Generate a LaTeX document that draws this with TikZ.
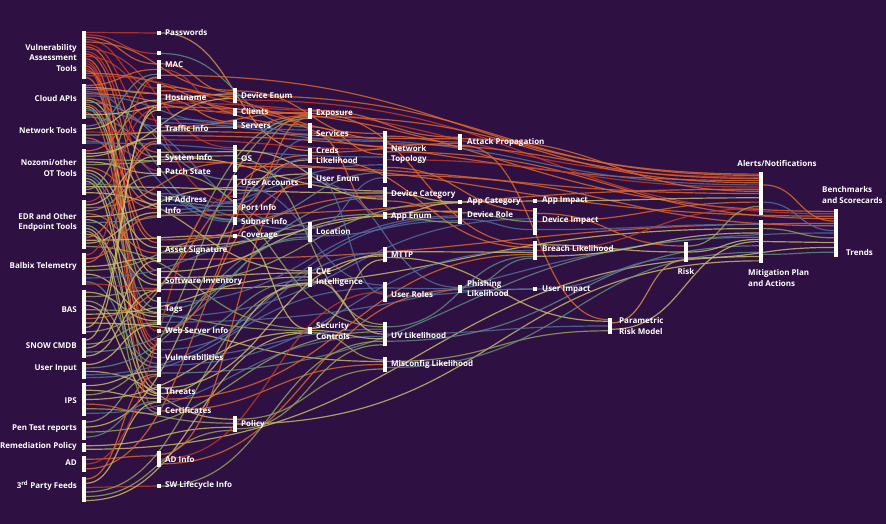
\documentclass[tikz,border=0pt]{standalone}
\usepackage{fontspec}
\setmainfont{Open Sans}
\usetikzlibrary{calc}
\definecolor{bgc}{RGB}{46,17,66}
\definecolor{cr}{RGB}{196,58,42}
\definecolor{co}{RGB}{224,104,48}
\definecolor{ca}{RGB}{214,150,80}
\definecolor{cy}{RGB}{206,190,110}
\definecolor{cg}{RGB}{150,165,95}
\definecolor{ct}{RGB}{95,140,135}
\definecolor{cb}{RGB}{85,110,160}
\tikzset{
  barn/.style={fill=white,draw=none,inner sep=0pt,outer sep=0pt,minimum width=4pt},
  flow/.style={line width=1.2pt,opacity=0.8},
  lab/.style={text=white,font=\bfseries\fontsize{8}{10.5}\selectfont,inner sep=0pt,align=left,anchor=west},
  labr/.style={lab,align=right,anchor=east},
  labc/.style={lab,align=center,anchor=center}
}
\newcommand\mkbar[4]{\node[barn,minimum height=#4pt,anchor=north west] (#1) at (#2,#3) {};}
\newcommand\lk[5]{\draw[flow,#5] let \p1=($(#1.north east)!#2!(#1.south east)$), \p2=($(#3.north west)!#4!(#3.south west)$) in (\p1) .. controls ({(\x1+\x2)/2},\y1) and ({(\x1+\x2)/2},\y2) .. (\p2);}
\begin{document}
\begin{tikzpicture}[x=1pt,y=-1pt]
\fill[bgc] (0,0) rectangle (886,524);
\useasboundingbox (0,0) rectangle (886,524);
% column 1
\mkbar{vat}{82}{31}{48}
\mkbar{cloud}{82}{84}{35}
\mkbar{nettools}{82}{124}{20}
\mkbar{ot}{82}{149}{46}
\mkbar{edr}{82}{200}{49}
\mkbar{balbix}{82}{253}{32}
\mkbar{bas}{82}{290}{44}
\mkbar{snow}{82}{338}{20}
\mkbar{uinput}{82}{362}{17}
\mkbar{ips}{82}{383}{33}
\mkbar{pen}{82}{420}{20}
\mkbar{remed}{82}{443}{9}
\mkbar{ad}{82}{456}{16}
\mkbar{tpf}{82}{477}{25}
% column 2
\mkbar{pw}{157}{31}{4}
\mkbar{unl}{157}{51.5}{4}
\mkbar{mac}{157}{60}{19}
\mkbar{host}{157}{84}{27}
\mkbar{traffic}{157}{116}{28}
\mkbar{sysinfo}{157}{149}{16}
\mkbar{patch}{157}{168}{8}
\mkbar{ip}{157}{191}{27}
\mkbar{asig}{157}{236}{26}
\mkbar{swinv}{157}{268}{24}
\mkbar{tags}{157}{297}{28}
\mkbar{websrv}{157}{329}{4}
\mkbar{vulns}{157}{338}{39}
\mkbar{threats}{157}{384}{19}
\mkbar{cert}{157}{407}{8}
\mkbar{adinfo}{157}{451}{16}
\mkbar{swlife}{157}{484}{4}
% column 3
\mkbar{devenum}{233}{88}{15}
\mkbar{clients}{233}{108}{8}
\mkbar{servers}{233}{120}{9}
\mkbar{os}{233}{145}{27}
\mkbar{uacc}{233}{175}{23}
\mkbar{port}{233}{199}{15}
\mkbar{subnet}{233}{217}{8}
\mkbar{cover}{233}{233.5}{4}
\mkbar{policy}{233}{416}{16}
% column 4
\mkbar{expo}{308}{108}{11}
\mkbar{serv}{308}{123}{20}
\mkbar{creds}{308}{148}{15}
\mkbar{uenum}{308}{168}{20}
\mkbar{loc}{308}{222}{20}
\mkbar{cve}{308}{267}{20}
\mkbar{sec}{308}{327}{7}
% column 5
\mkbar{ntopo}{383}{131}{52}
\mkbar{dcat}{383}{187}{20}
\mkbar{aenum}{383}{212}{7}
\mkbar{mttp}{383}{247}{15}
\mkbar{uroles}{383}{282}{20}
\mkbar{uvl}{383}{322}{24}
\mkbar{misc}{383}{357}{15}
% column 6
\mkbar{aprop}{458}{134}{16}
\mkbar{acat}{458}{200}{4}
\mkbar{drole}{458}{208}{16}
\mkbar{phish}{458}{285}{8}
% column 7
\mkbar{aimp}{533}{199}{4}
\mkbar{dimp}{533}{208}{27}
\mkbar{breach}{533}{241}{19}
\mkbar{uimp}{533}{287}{4}
% right part
\mkbar{prm}{608}{318}{16}
\mkbar{risk}{684}{242}{20}
\mkbar{alerts}{759}{172}{43}
\mkbar{mitig}{759}{220}{43}
\mkbar{bench}{834}{209}{48}
% ---------- flows ----------
\begin{scope}
\lk{vat}{.03}{pw}{.5}{cr}
\lk{vat}{.08}{unl}{.5}{cr}
\lk{vat}{.13}{mac}{.2}{co}
\lk{vat}{.18}{host}{.15}{cr}
\lk{vat}{.23}{devenum}{.15}{co}
\lk{vat}{.28}{traffic}{.15}{cr}
\lk{vat}{.33}{sysinfo}{.2}{co}
\lk{vat}{.38}{os}{.1}{cr}
\lk{vat}{.43}{patch}{.3}{cr}
\lk{vat}{.48}{ip}{.15}{co}
\lk{vat}{.53}{port}{.2}{cr}
\lk{vat}{.58}{swinv}{.1}{co}
\lk{vat}{.63}{websrv}{.5}{cr}
\lk{vat}{.68}{vulns}{.08}{cr}
\lk{vat}{.73}{threats}{.1}{co}
\lk{vat}{.78}{cert}{.3}{cr}
\lk{vat}{.83}{asig}{.1}{co}
\lk{vat}{.88}{serv}{.1}{co}
\lk{vat}{.93}{expo}{.2}{cr}
\lk{vat}{.97}{vulns}{.2}{co}
\lk{cloud}{.04}{mac}{.5}{co}
\lk{cloud}{.1}{host}{.35}{ca}
\lk{cloud}{.16}{expo}{.5}{co}
\lk{cloud}{.22}{traffic}{.35}{cb}
\lk{cloud}{.28}{clients}{.5}{co}
\lk{cloud}{.34}{servers}{.4}{cb}
\lk{cloud}{.40}{sysinfo}{.5}{co}
\lk{cloud}{.46}{ip}{.35}{cy}
\lk{cloud}{.52}{uacc}{.2}{ct}
\lk{cloud}{.58}{asig}{.25}{co}
\lk{cloud}{.64}{swinv}{.3}{cy}
\lk{cloud}{.70}{tags}{.15}{cg}
\lk{cloud}{.76}{loc}{.2}{cb}
\lk{cloud}{.82}{vulns}{.3}{co}
\lk{cloud}{.88}{devenum}{.4}{cy}
\lk{cloud}{.94}{subnet}{.3}{ct}
\lk{nettools}{.1}{mac}{.75}{ct}
\lk{nettools}{.25}{host}{.6}{cy}
\lk{nettools}{.4}{traffic}{.6}{cr}
\lk{nettools}{.55}{servers}{.8}{cg}
\lk{nettools}{.7}{ip}{.5}{co}
\lk{nettools}{.85}{subnet}{.6}{cb}
\lk{nettools}{.95}{ntopo}{.5}{cb}
\lk{ot}{.04}{host}{.8}{co}
\lk{ot}{.1}{devenum}{.7}{cy}
\lk{ot}{.16}{traffic}{.8}{cy}
\lk{ot}{.22}{sysinfo}{.75}{cg}
\lk{ot}{.28}{patch}{.7}{cy}
\lk{ot}{.34}{os}{.4}{cg}
\lk{ot}{.40}{ip}{.65}{co}
\lk{ot}{.46}{asig}{.45}{cy}
\lk{ot}{.52}{swinv}{.5}{cg}
\lk{ot}{.58}{tags}{.4}{ct}
\lk{ot}{.64}{vulns}{.4}{cy}
\lk{ot}{.70}{threats}{.3}{cy}
\lk{ot}{.76}{port}{.5}{ct}
\lk{ot}{.82}{dcat}{.3}{cy}
\lk{ot}{.88}{mac}{.9}{cg}
\lk{ot}{.95}{cve}{.2}{cy}
\lk{edr}{.04}{host}{.92}{cr}
\lk{edr}{.1}{sysinfo}{.45}{cy}
\lk{edr}{.16}{os}{.65}{co}
\lk{edr}{.22}{patch}{.9}{cg}
\lk{edr}{.28}{asig}{.65}{co}
\lk{edr}{.34}{uacc}{.55}{cy}
\lk{edr}{.40}{swinv}{.7}{cy}
\lk{edr}{.46}{port}{.75}{ct}
\lk{edr}{.52}{vulns}{.5}{cg}
\lk{edr}{.58}{threats}{.5}{cy}
\lk{edr}{.64}{cert}{.7}{cg}
\lk{edr}{.70}{tags}{.55}{cy}
\lk{edr}{.76}{traffic}{.9}{co}
\lk{edr}{.82}{cover}{.5}{cy}
\lk{edr}{.88}{ip}{.8}{cy}
\lk{edr}{.95}{sec}{.2}{cg}
\lk{balbix}{.06}{mac}{.95}{cr}
\lk{balbix}{.18}{ip}{.92}{co}
\lk{balbix}{.3}{traffic}{.97}{co}
\lk{balbix}{.42}{asig}{.85}{cy}
\lk{balbix}{.54}{cover}{.8}{cg}
\lk{balbix}{.66}{tags}{.7}{cy}
\lk{balbix}{.78}{loc}{.6}{cb}
\lk{balbix}{.9}{vulns}{.65}{ct}
\lk{balbix}{.97}{swinv}{.85}{cr}
\lk{bas}{.05}{tags}{.85}{cy}
\lk{bas}{.15}{swinv}{.92}{cg}
\lk{bas}{.25}{vulns}{.75}{cg}
\lk{bas}{.35}{threats}{.6}{cy}
\lk{bas}{.45}{sec}{.5}{cg}
\lk{bas}{.55}{cve}{.5}{cy}
\lk{bas}{.65}{creds}{.5}{co}
\lk{bas}{.75}{misc}{.3}{cy}
\lk{bas}{.85}{host}{.97}{cy}
\lk{bas}{.95}{expo}{.8}{cg}
\lk{snow}{.1}{host}{.85}{cy}
\lk{snow}{.3}{tags}{.92}{cg}
\lk{snow}{.5}{asig}{.95}{cy}
\lk{snow}{.7}{dcat}{.5}{ct}
\lk{snow}{.9}{swinv}{.95}{cy}
\lk{uinput}{.15}{tags}{.97}{cy}
\lk{uinput}{.35}{loc}{.85}{ct}
\lk{uinput}{.55}{policy}{.2}{cy}
\lk{uinput}{.75}{drole}{.6}{cb}
\lk{uinput}{.92}{uroles}{.3}{cb}
\lk{ips}{.08}{vulns}{.85}{cy}
\lk{ips}{.22}{threats}{.75}{cy}
\lk{ips}{.36}{expo}{.95}{cg}
\lk{ips}{.5}{sec}{.7}{cy}
\lk{ips}{.64}{cert}{.85}{co}
\lk{ips}{.78}{policy}{.45}{cg}
\lk{ips}{.92}{uvl}{.6}{cb}
\lk{pen}{.1}{vulns}{.93}{cg}
\lk{pen}{.35}{creds}{.8}{cy}
\lk{pen}{.6}{uvl}{.4}{cg}
\lk{pen}{.85}{threats}{.92}{ct}
\lk{remed}{.3}{policy}{.7}{cy}
\lk{remed}{.7}{mitig}{.85}{cy}
\lk{ad}{.2}{adinfo}{.3}{co}
\lk{ad}{.5}{uacc}{.92}{cr}
\lk{ad}{.8}{uenum}{.8}{co}
\lk{tpf}{.08}{vulns}{.97}{co}
\lk{tpf}{.25}{threats}{.97}{cy}
\lk{tpf}{.42}{swlife}{.5}{cr}
\lk{tpf}{.6}{cve}{.9}{cg}
\lk{tpf}{.78}{policy}{.9}{cg}
\lk{tpf}{.94}{sec}{.85}{cy}
% column 2 outgoing
\lk{pw}{.5}{creds}{.15}{ca}
\lk{unl}{.5}{serv}{.2}{ct}
\lk{mac}{.2}{devenum}{.3}{co}
\lk{mac}{.5}{clients}{.3}{cr}
\lk{mac}{.8}{alerts}{.05}{co}
\lk{host}{.1}{devenum}{.55}{co}
\lk{host}{.25}{ntopo}{.05}{co}
\lk{host}{.4}{clients}{.7}{cr}
\lk{host}{.55}{servers}{.2}{co}
\lk{host}{.7}{alerts}{.12}{cr}
\lk{host}{.85}{bench}{.05}{co}
\lk{traffic}{.1}{serv}{.35}{cb}
\lk{traffic}{.25}{ntopo}{.2}{cb}
\lk{traffic}{.4}{expo}{.4}{co}
\lk{traffic}{.55}{aprop}{.3}{co}
\lk{traffic}{.7}{alerts}{.2}{co}
\lk{traffic}{.85}{ntopo}{.35}{cr}
\lk{sysinfo}{.2}{os}{.25}{cy}
\lk{sysinfo}{.5}{dcat}{.2}{cy}
\lk{sysinfo}{.8}{bench}{.15}{co}
\lk{patch}{.5}{uvl}{.2}{cg}
\lk{ip}{.1}{port}{.3}{cb}
\lk{ip}{.3}{subnet}{.4}{ct}
\lk{ip}{.5}{loc}{.4}{cb}
\lk{ip}{.7}{ntopo}{.65}{cb}
\lk{ip}{.9}{alerts}{.4}{co}
\lk{asig}{.15}{dcat}{.45}{co}
\lk{asig}{.4}{drole}{.2}{cy}
\lk{asig}{.65}{aenum}{.3}{cg}
\lk{asig}{.9}{bench}{.3}{co}
\lk{swinv}{.15}{aenum}{.6}{cy}
\lk{swinv}{.4}{cve}{.3}{cy}
\lk{swinv}{.65}{acat}{.5}{cg}
\lk{swinv}{.9}{mitig}{.2}{cy}
\lk{tags}{.2}{drole}{.5}{cb}
\lk{tags}{.45}{loc}{.75}{ct}
\lk{tags}{.7}{dimp}{.4}{cb}
\lk{tags}{.9}{bench}{.5}{cb}
\lk{websrv}{.5}{expo}{.65}{co}
\lk{vulns}{.1}{cve}{.65}{ct}
\lk{vulns}{.3}{mttp}{.4}{cb}
\lk{vulns}{.5}{uvl}{.3}{cb}
\lk{vulns}{.7}{breach}{.5}{cb}
\lk{vulns}{.9}{mitig}{.4}{ct}
\lk{threats}{.2}{mttp}{.6}{cy}
\lk{threats}{.5}{cve}{.8}{cy}
\lk{threats}{.8}{breach}{.7}{co}
\lk{cert}{.5}{misc}{.5}{co}
\lk{adinfo}{.2}{uenum}{.5}{co}
\lk{adinfo}{.5}{uroles}{.5}{cr}
\lk{adinfo}{.8}{phish}{.6}{co}
\lk{swlife}{.5}{uvl}{.8}{cg}
% column 3 outgoing
\lk{devenum}{.2}{ntopo}{.15}{co}
\lk{devenum}{.5}{alerts}{.08}{co}
\lk{devenum}{.8}{bench}{.1}{cr}
\lk{clients}{.5}{ntopo}{.3}{co}
\lk{servers}{.3}{serv}{.55}{cb}
\lk{servers}{.7}{expo}{.7}{co}
\lk{os}{.2}{dcat}{.6}{cy}
\lk{os}{.5}{uvl}{.1}{cg}
\lk{os}{.8}{alerts}{.5}{co}
\lk{uacc}{.2}{uenum}{.3}{cy}
\lk{uacc}{.5}{uroles}{.15}{cb}
\lk{uacc}{.8}{creds}{.7}{cb}
\lk{port}{.3}{serv}{.8}{cb}
\lk{port}{.7}{expo}{.9}{co}
\lk{subnet}{.5}{ntopo}{.8}{ct}
\lk{cover}{.5}{sec}{.3}{cy}
\lk{policy}{.2}{misc}{.8}{cg}
\lk{policy}{.5}{mitig}{.95}{cy}
\lk{policy}{.8}{uvl}{.95}{cg}
% column 4 outgoing
\lk{expo}{.2}{aprop}{.2}{co}
\lk{expo}{.5}{breach}{.2}{co}
\lk{expo}{.8}{alerts}{.25}{co}
\lk{serv}{.2}{ntopo}{.45}{co}
\lk{serv}{.5}{aenum}{.5}{co}
\lk{serv}{.8}{alerts}{.3}{cb}
\lk{creds}{.3}{aprop}{.6}{co}
\lk{creds}{.7}{breach}{.35}{co}
\lk{uenum}{.3}{uroles}{.6}{cb}
\lk{uenum}{.7}{phish}{.3}{cb}
\lk{loc}{.3}{ntopo}{.9}{cb}
\lk{loc}{.7}{drole}{.8}{cb}
\lk{cve}{.3}{mttp}{.5}{cy}
\lk{cve}{.7}{uvl}{.5}{cy}
\lk{sec}{.2}{mttp}{.85}{cy}
\lk{sec}{.5}{uvl}{.7}{cy}
\lk{sec}{.8}{misc}{.2}{cg}
% column 5 outgoing
\lk{ntopo}{.1}{aprop}{.5}{co}
\lk{ntopo}{.25}{alerts}{.15}{co}
\lk{ntopo}{.4}{bench}{.2}{co}
\lk{ntopo}{.55}{alerts}{.35}{cr}
\lk{ntopo}{.7}{dimp}{.1}{co}
\lk{ntopo}{.85}{bench}{.35}{co}
\lk{dcat}{.3}{acat}{.5}{cy}
\lk{dcat}{.7}{drole}{.3}{co}
\lk{aenum}{.3}{acat}{.7}{cy}
\lk{aenum}{.7}{drole}{.9}{cg}
\lk{mttp}{.3}{breach}{.6}{cy}
\lk{mttp}{.7}{prm}{.2}{cy}
\lk{uroles}{.3}{phish}{.5}{cb}
\lk{uroles}{.7}{uimp}{.5}{cb}
\lk{uvl}{.2}{breach}{.8}{ct}
\lk{uvl}{.5}{prm}{.5}{cb}
\lk{uvl}{.8}{mitig}{.6}{ct}
\lk{misc}{.3}{prm}{.8}{cg}
\lk{misc}{.7}{mitig}{.75}{ct}
% column 6 outgoing
\lk{aprop}{.3}{alerts}{.45}{co}
\lk{aprop}{.7}{prm}{.1}{co}
\lk{acat}{.5}{aimp}{.5}{cy}
\lk{drole}{.3}{dimp}{.5}{cg}
\lk{drole}{.7}{dimp}{.8}{cb}
\lk{phish}{.3}{breach}{.9}{ct}
\lk{phish}{.7}{uimp}{.5}{cb}
% column 7 and right
\lk{aimp}{.5}{alerts}{.6}{cy}
\lk{dimp}{.2}{risk}{.2}{co}
\lk{dimp}{.5}{alerts}{.7}{co}
\lk{dimp}{.8}{mitig}{.1}{cb}
\lk{breach}{.2}{risk}{.5}{cy}
\lk{breach}{.5}{alerts}{.85}{cr}
\lk{breach}{.8}{mitig}{.3}{cy}
\lk{uimp}{.5}{risk}{.8}{cb}
\lk{prm}{.3}{risk}{.9}{ca}
\lk{prm}{.7}{mitig}{.5}{cy}
\lk{risk}{.2}{alerts}{.8}{cg}
\lk{risk}{.5}{mitig}{.45}{cy}
\lk{risk}{.8}{bench}{.8}{cy}
\lk{alerts}{.3}{bench}{.25}{co}
\lk{alerts}{.7}{bench}{.45}{cb}
\lk{mitig}{.2}{bench}{.6}{cg}
\lk{mitig}{.5}{bench}{.7}{cy}
\lk{mitig}{.8}{bench}{.9}{ct}
\end{scope}
% redraw bars on top
\foreach \n in {vat,cloud,nettools,ot,edr,balbix,bas,snow,uinput,ips,pen,remed,ad,tpf,pw,unl,mac,host,traffic,sysinfo,patch,ip,asig,swinv,tags,websrv,vulns,threats,cert,adinfo,swlife,devenum,clients,servers,os,uacc,port,subnet,cover,policy,expo,serv,creds,uenum,loc,cve,sec,ntopo,dcat,aenum,mttp,uroles,uvl,misc,aprop,acat,drole,phish,aimp,dimp,breach,uimp,prm,risk,alerts,mitig,bench}
  {\fill[white] (\n.north west) rectangle (\n.south east);}
% ---------- labels ----------
\node[labr] (t-vat) at (77,58) {Vulnerability\\Assessment\\Tools};
\node[labr] (t-cloud) at (77,99) {Cloud APIs};
\node[labr] (t-nettools) at (77,131) {Network Tools};
\node[labr] (t-ot) at (77,168) {Nozomi/other\\OT Tools};
\node[labr] (t-edr) at (77,222.5) {EDR and Other\\Endpoint Tools};
\node[labr] (t-balbix) at (77,266.5) {Balbix Telemetry};
\node[labr] (t-bas) at (77,310) {BAS};
\node[labr] (t-snow) at (77,346) {SNOW CMDB};
\node[labr] (t-uinput) at (77,369) {User Input};
\node[labr] (t-ips) at (77,400.5) {IPS};
\node[labr] (t-pen) at (77,428.5) {Pen Test reports};
\node[labr] (t-remed) at (77,446.5) {Remediation Policy};
\node[labr] (t-ad) at (77,463) {AD};
\node[labr] (t-tpf) at (77,485.5) {3\textsuperscript{rd} Party Feeds};
\node[lab] (t-pw) at (165,33) {Passwords};
\node[lab] (t-mac) at (165,65) {MAC};
\node[lab] (t-host) at (165,97.5) {Hostname};
\node[lab] (t-traffic) at (165,128.5) {Traffic Info};
\node[lab] (t-sysinfo) at (165,158) {System Info};
\node[lab] (t-patch) at (165,172) {Patch State};
\node[lab] (t-ip) at (165,205) {IP Address\\Info};
\node[lab] (t-asig) at (165,250) {Asset Signature};
\node[lab] (t-swinv) at (165,281.5) {Software Inventory};
\node[lab] (t-tags) at (165,310) {Tags};
\node[lab] (t-websrv) at (165,330.5) {Web Server Info};
\node[lab] (t-vulns) at (165,357.5) {Vulnerabilities};
\node[lab] (t-threats) at (165,391.5) {Threats};
\node[lab] (t-cert) at (165,410.5) {Certificates};
\node[lab] (t-adinfo) at (165,459) {AD Info};
\node[lab] (t-swlife) at (165,485.5) {SW Lifecycle Info};
\node[lab] (t-devenum) at (241,96) {Device Enum};
\node[lab] (t-clients) at (241,112) {Clients};
\node[lab] (t-servers) at (241,126) {Servers};
\node[lab] (t-os) at (241,159) {OS};
\node[lab] (t-uacc) at (241,183) {User Accounts};
\node[lab] (t-port) at (241,207) {Port Info};
\node[lab] (t-subnet) at (241,221) {Subnet Info};
\node[lab] (t-cover) at (241,235.5) {Coverage};
\node[lab] (t-policy) at (241,424) {Policy};
\node[lab] (t-expo) at (316,114) {Exposure};
\node[lab] (t-serv) at (316,134) {Services};
\node[lab] (t-creds) at (316,155.5) {Creds\\Likelihood};
\node[lab] (t-uenum) at (316,179) {User Enum};
\node[lab] (t-loc) at (316,231) {Location};
\node[lab] (t-cve) at (316,277.5) {CVE\\Intelligence};
\node[lab] (t-sec) at (316,331) {Security\\Controls};
\node[lab] (t-ntopo) at (391,154.5) {Network\\Topology};
\node[lab] (t-dcat) at (391,194) {Device Category};
\node[lab] (t-aenum) at (391,217) {App Enum};
\node[lab] (t-mttp) at (391,255) {MTTP};
\node[lab] (t-uroles) at (391,294) {User Roles};
\node[lab] (t-uvl) at (391,335) {UV Likelihood};
\node[lab] (t-misc) at (391,364) {Misconfig Likelihood};
\node[lab] (t-aprop) at (467,142) {Attack Propagation};
\node[lab] (t-acat) at (467,201.5) {App Category};
\node[lab] (t-drole) at (467,214) {Device Role};
\node[lab] (t-phish) at (467,288.5) {Phishing\\Likelihood};
\node[lab] (t-aimp) at (542,201) {App Impact};
\node[lab] (t-dimp) at (542,220.5) {Device Impact};
\node[lab] (t-breach) at (542,248) {Breach Likelihood};
\node[lab] (t-uimp) at (542,290) {User Impact};
\node[lab] (t-prm) at (619,326) {Parametric\\Risk Model};
\node[labc] (t-risk) at (686,271) {Risk};
\node[labc] (t-alerts) at (777,163) {Alerts/Notifications};
\node[lab] (t-mitig) at (748,278) {Mitigation Plan\\and Actions};
\node[lab] (t-bench) at (822,195) {Benchmarks\\and Scorecards};
\node[lab] (t-trends) at (846,252) {Trends};
\end{tikzpicture}
\end{document}
